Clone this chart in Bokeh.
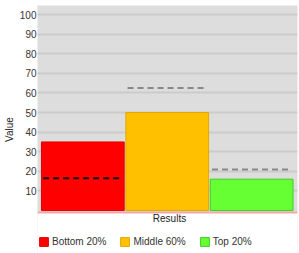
from bokeh.plotting import figure
from bokeh.models import (ColumnDataSource, Range1d, FixedTicker, Legend, LegendItem,
                          BoxAnnotation, Span, Label)
from bokeh.embed import file_html
from bokeh.resources import INLINE

# ---- data ----
categories = ["Bottom 20%", "Middle 60%", "Top 20%"]
values = [35, 50, 16]
benchmarks = [16.5, 62.5, 21]
y_ticks = [10, 20, 30, 40, 50, 60, 70, 80, 90, 100]
x_title = "Results"
y_title = "Value"

fill_colors = ["#FF0000", "#FFC000", "#66FF33"]
line_colors = ["#E40000", "#E0A800", "#44CC22"]
dash_colors = ["#111111", "#888888", "#888888"]

FONT = "Liberation Sans"

p = figure(width=299, height=253, output_backend="svg", toolbar_location=None,
           x_range=Range1d(-0.537, 2.543), y_range=Range1d(-21.9, 104.6),
           min_border_left=36, min_border_right=2, min_border_top=5,
           min_border_bottom=0)

p.background_fill_color = "#DDDDDD"
p.border_fill_color = "white"
p.outline_line_color = None

xs = list(range(len(categories)))
items = []
for i, cat in enumerate(categories):
    src = ColumnDataSource(dict(x=[xs[i]], top=[values[i]],
                                x0=[xs[i] - 0.47], x1=[xs[i] + 0.47],
                                b=[benchmarks[i]]))
    r = p.vbar(x="x", top="top", bottom=0, width=0.98, source=src,
               fill_color=fill_colors[i], line_color=line_colors[i], line_width=1)
    p.segment(x0="x0", x1="x1", y0="b", y1="b", source=src,
              line_color=dash_colors[i], line_width=2, line_dash="6 4")
    items.append(LegendItem(label=cat, renderers=[r]))

# white area below the plotting region (for axis title and legend)
p.add_layout(BoxAnnotation(top=-1.1, bottom=-30, left=-1, right=3,
                           fill_color="white", fill_alpha=1.0, line_color=None))
p.add_layout(Span(location=-1.0, dimension="width", line_color="#F2A8A8",
                  line_width=2))
p.add_layout(Label(x=132, y=35, x_units="screen", y_units="screen", text=x_title,
                   text_font=FONT, text_font_size="10px", text_color="#222222",
                   text_align="center", text_baseline="middle"))

# y axis
p.yaxis.ticker = FixedTicker(ticks=y_ticks)
p.yaxis.axis_label = y_title
p.yaxis.axis_label_text_font = FONT
p.yaxis.axis_label_text_font_size = "10px"
p.yaxis.axis_label_text_font_style = "normal"
p.yaxis.axis_label_text_color = "#222222"
p.yaxis.axis_label_standoff = 2
p.yaxis.major_label_text_font = FONT
p.yaxis.major_label_text_font_size = "10px"
p.yaxis.major_label_text_color = "#333333"
p.yaxis.major_label_standoff = 1
p.yaxis.axis_line_color = None
p.yaxis.major_tick_line_color = None
p.yaxis.minor_tick_line_color = None
p.yaxis.major_tick_out = 0
p.yaxis.minor_tick_out = 0

p.xaxis.visible = False
p.xgrid.grid_line_color = None
p.ygrid.ticker = FixedTicker(ticks=y_ticks)
p.ygrid.grid_line_color = "#CCCCCC"
p.ygrid.grid_line_width = 2

legend = Legend(items=items, orientation="horizontal", location=(1, 6),
                label_text_font=FONT, label_text_font_size="10px",
                label_text_color="#333333",
                glyph_width=11, glyph_height=11, label_standoff=3,
                spacing=13, padding=0, margin=0,
                border_line_color=None, background_fill_alpha=0,
                label_height=11)
p.add_layout(legend, "center")

open("out.html", "w").write(file_html(p, INLINE))
